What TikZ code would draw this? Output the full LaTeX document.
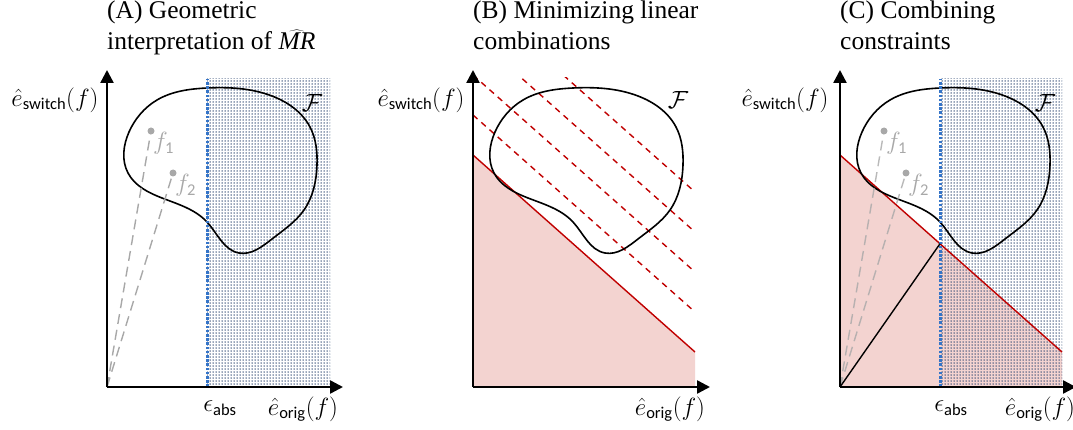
\documentclass[tikz,border=0pt]{standalone}
\usepackage{fontspec}
\setmainfont{Liberation Serif}
\newfontfamily\timesfont{Liberation Serif}
\newfontfamily\calibri{Carlito}
\usetikzlibrary{arrows.meta,patterns.meta,calc,hobby}
\newcommand{\subtxt}[1]{\mbox{\fontsize{16.5}{16.5}\selectfont\calibri #1}}
\newcommand{\feasset}{(100,299) .. (165,291) .. (203,260) .. (210,222)
  .. (197,177) .. (165,148) .. (132,134) .. (100,165) .. (55,189)
  .. (21,214) .. (22,255) .. (50,287)}

\begin{document}
\begin{tikzpicture}[
  x=1pt, y=1pt,
  axis/.style={line width=2.4pt, -{Triangle[length=13pt, width=13pt]}},
  feas/.style={line width=1.6pt, black, use Hobby shortcut, closed=true},
  epsline/.style={line width=3pt, color=epsBlue, dash pattern=on 2.6pt off 1.6pt},
  epsregion/.style={pattern={Dots[radius=0.75pt, distance=3pt]}, pattern color=dotNavy},
  bound/.style={line width=1.4pt, color=boundRed},
  level/.style={line width=1.4pt, color=boundRed, dash pattern=on 6pt off 5pt},
  ratio/.style={line width=1.4pt, color=pointGrey, dash pattern=on 10pt off 6pt},
  fdot/.style={circle, fill=pointGrey, inner sep=0pt, minimum size=7pt},
  ptlabel/.style={text=pointGrey, anchor=north west, inner sep=0pt,
    font=\fontsize{24}{26}\selectfont},
  lab/.style={font=\fontsize{24}{26}\selectfont},
  title/.style={anchor=north west, align=left, inner sep=0pt,
    font=\timesfont\fontsize{25.5}{31}\selectfont},
]
\definecolor{epsBlue}{HTML}{3474C8}
\definecolor{dotNavy}{HTML}{2A4470}
\definecolor{boundRed}{HTML}{C00000}
\definecolor{boundFill}{HTML}{F3D3D0}
\definecolor{pointGrey}{HTML}{A8A8A8}
\useasboundingbox (0,0) rectangle (1073,429);

% (A) the feasible set and the threshold on the original error
\begin{scope}[shift={(107,42)}]
  \coordinate (oA) at (0,0);
  \node[title] (titleA) at (0,386)
    {(A) Geometric\\interpretation of $\widehat{\mbox{\itshape MR}}$};
  \fill[epsregion] (100,0) rectangle (223,308);
  \draw[feas] \feasset;
  \node[lab] (setA) at (205,284) {$\mathcal{F}$};
  \node[fdot] (f1A) at (44,256) {};
  \node[fdot] (f2A) at (66,214) {};
  \draw[ratio] (oA) -- (f1A);
  \draw[ratio] (oA) -- (f2A);
  \node[ptlabel] at ($(f1A)+(2,-1)$) {$f_{\subtxt{1}}$};
  \node[ptlabel] at ($(f2A)+(2,-1)$) {$f_{\subtxt{2}}$};
  \coordinate (epsA) at (100,0);
  \draw[epsline] (epsA) -- ++(0,308);
  \draw[axis] (oA) -- (0,317);
  \draw[axis] (oA) -- (236,0);
  \node[lab] (ylabA) at (-52,287) {$\hat{e}_{\subtxt{switch}}(f)$};
  \node[lab] (epslabA) at (113,-21) {$\epsilon_{\subtxt{abs}}$};
  \node[lab] (xlabA) at (196,-22) {$\hat{e}_{\subtxt{orig}}(f)$};
\end{scope}

% (B) level lines of the linear objective
\begin{scope}[shift={(473,42)}]
  \coordinate (oB) at (0,0);
  \node[title] (titleB) at (0,386) {(B) Minimizing linear\\combinations};
  \coordinate (redLB) at (0,232);
  \coordinate (redRB) at (222,35);
  \fill[boundFill] (oB) -- (redLB) -- (redRB) -- (222,0) -- cycle;
  \draw[bound] (redLB) -- (redRB);
  \begin{scope}
    \clip (0,0) rectangle (222,309);
    \foreach \k in {1,...,4}
      \draw[level] (0,{232+40*\k}) -- ++(222,-197);
  \end{scope}
  \draw[feas] \feasset;
  \node[lab] (setB) at (205,287) {$\mathcal{F}$};
  \draw[axis] (oB) -- (0,317);
  \draw[axis] (oB) -- (237,0);
  \node[lab] (ylabB) at (-52,287) {$\hat{e}_{\subtxt{switch}}(f)$};
  \node[lab] (xlabB) at (197,-22) {$\hat{e}_{\subtxt{orig}}(f)$};
\end{scope}

% (C) both constraints together
\begin{scope}[shift={(840,42)}]
  \coordinate (oC) at (0,0);
  \node[title] (titleC) at (0,386) {(C) Combining\\constraints};
  \coordinate (redLC) at (0,232);
  \coordinate (redRC) at (222,35);
  \fill[boundFill] (oC) -- (redLC) -- (redRC) -- (222,0) -- cycle;
  \fill[epsregion] (100,0) rectangle (222,308);
  \draw[bound] (redLC) -- (redRC);
  \draw[feas] \feasset;
  \node[lab] (setC) at (205,284) {$\mathcal{F}$};
  \node[fdot] (f1C) at (44,256) {};
  \node[fdot] (f2C) at (66,214) {};
  \draw[ratio, opacity=0.8] (oC) -- (f1C);
  \draw[ratio, opacity=0.8] (oC) -- (f2C);
  \node[ptlabel] at ($(f1C)+(2,-1)$) {$f_{\subtxt{1}}$};
  \node[ptlabel] at ($(f2C)+(2,-1)$) {$f_{\subtxt{2}}$};
  \coordinate (epsC) at (100,0);
  \coordinate (hitC) at ($(redLC)!100/222!(redRC)$);
  \draw[epsline] (epsC) -- ++(0,308);
  \draw[black, line width=1.4pt] (oC) -- (hitC);
  \draw[axis] (oC) -- (0,317);
  \draw[axis] (oC) -- (236,0);
  \node[lab] (ylabC) at (-55,287) {$\hat{e}_{\subtxt{switch}}(f)$};
  \node[lab] (epslabC) at (111,-21) {$\epsilon_{\subtxt{abs}}$};
  \node[lab] (xlabC) at (200,-22) {$\hat{e}_{\subtxt{orig}}(f)$};
\end{scope}
\end{tikzpicture}
\end{document}
